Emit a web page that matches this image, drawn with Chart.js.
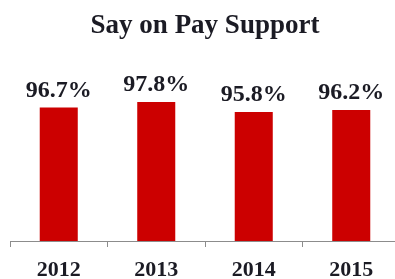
<!DOCTYPE html>
<html lang="en">
  <head>
    <meta charset="UTF-8" />
    <title>Say on Pay Support</title>
    <style>
      body {
        margin: 0;
        padding: 0;
        background: #fff;
        overflow: hidden;
      }
      .chart-box {
        width: 400px;
        height: 279px;
      }
    </style>
    <script src="https://cdn.jsdelivr.net/npm/chart.js"></script>
  </head>
  <body>
    <div class="chart-box">
      <canvas id="payChart"></canvas>
    </div>

    <script>
      // data
      const years = ['2012', '2013', '2014', '2015'];
      const support = [96.7, 97.8, 95.8, 96.2];

      const textColor = '#1b1b24';
      const serif = "'Liberation Serif', 'Times New Roman', serif";

      // value labels above each bar
      const valueLabels = {
        id: 'valueLabels',
        afterDatasetsDraw(chart) {
          const ctx = chart.ctx;
          const meta = chart.getDatasetMeta(0);
          ctx.save();
          ctx.font = 'bold 24px ' + serif;
          ctx.fillStyle = textColor;
          ctx.textAlign = 'center';
          ctx.textBaseline = 'alphabetic';
          meta.data.forEach((bar, i) => {
            ctx.fillText(support[i].toFixed(1) + '%', bar.x, bar.y - 11);
          });
          ctx.restore();
        }
      };

      new Chart(document.getElementById('payChart'), {
        type: 'bar',
        data: {
          labels: years,
          datasets: [{
            data: support,
            backgroundColor: '#cc0000',
            borderWidth: 0,
            categoryPercentage: 1,
            barPercentage: 0.39
          }]
        },
        options: {
          responsive: true,
          maintainAspectRatio: false,
          animation: false,
          layout: {
            padding: { left: 10, right: 0, top: 0, bottom: 0 }
          },
          plugins: {
            legend: { display: false },
            tooltip: { enabled: false },
            title: {
              display: true,
              text: 'Say on Pay Support',
              color: textColor,
              font: { family: serif, size: 27, weight: 'bold' },
              padding: { top: 10, bottom: 48.6 }
            }
          },
          scales: {
            x: {
              grid: {
                drawOnChartArea: false,
                drawTicks: true,
                tickLength: 6,
                color: '#8c8c8c'
              },
              border: { color: '#8c8c8c', width: 1 },
              ticks: {
                color: textColor,
                padding: 10,
                font: { family: serif, size: 22, weight: 'bold' }
              },
              afterFit(scale) {
                scale.height = 38;
              }
            },
            y: {
              display: false,
              min: 70,
              max: 100
            }
          }
        },
        plugins: [valueLabels]
      });
    </script>
  </body>
</html>
